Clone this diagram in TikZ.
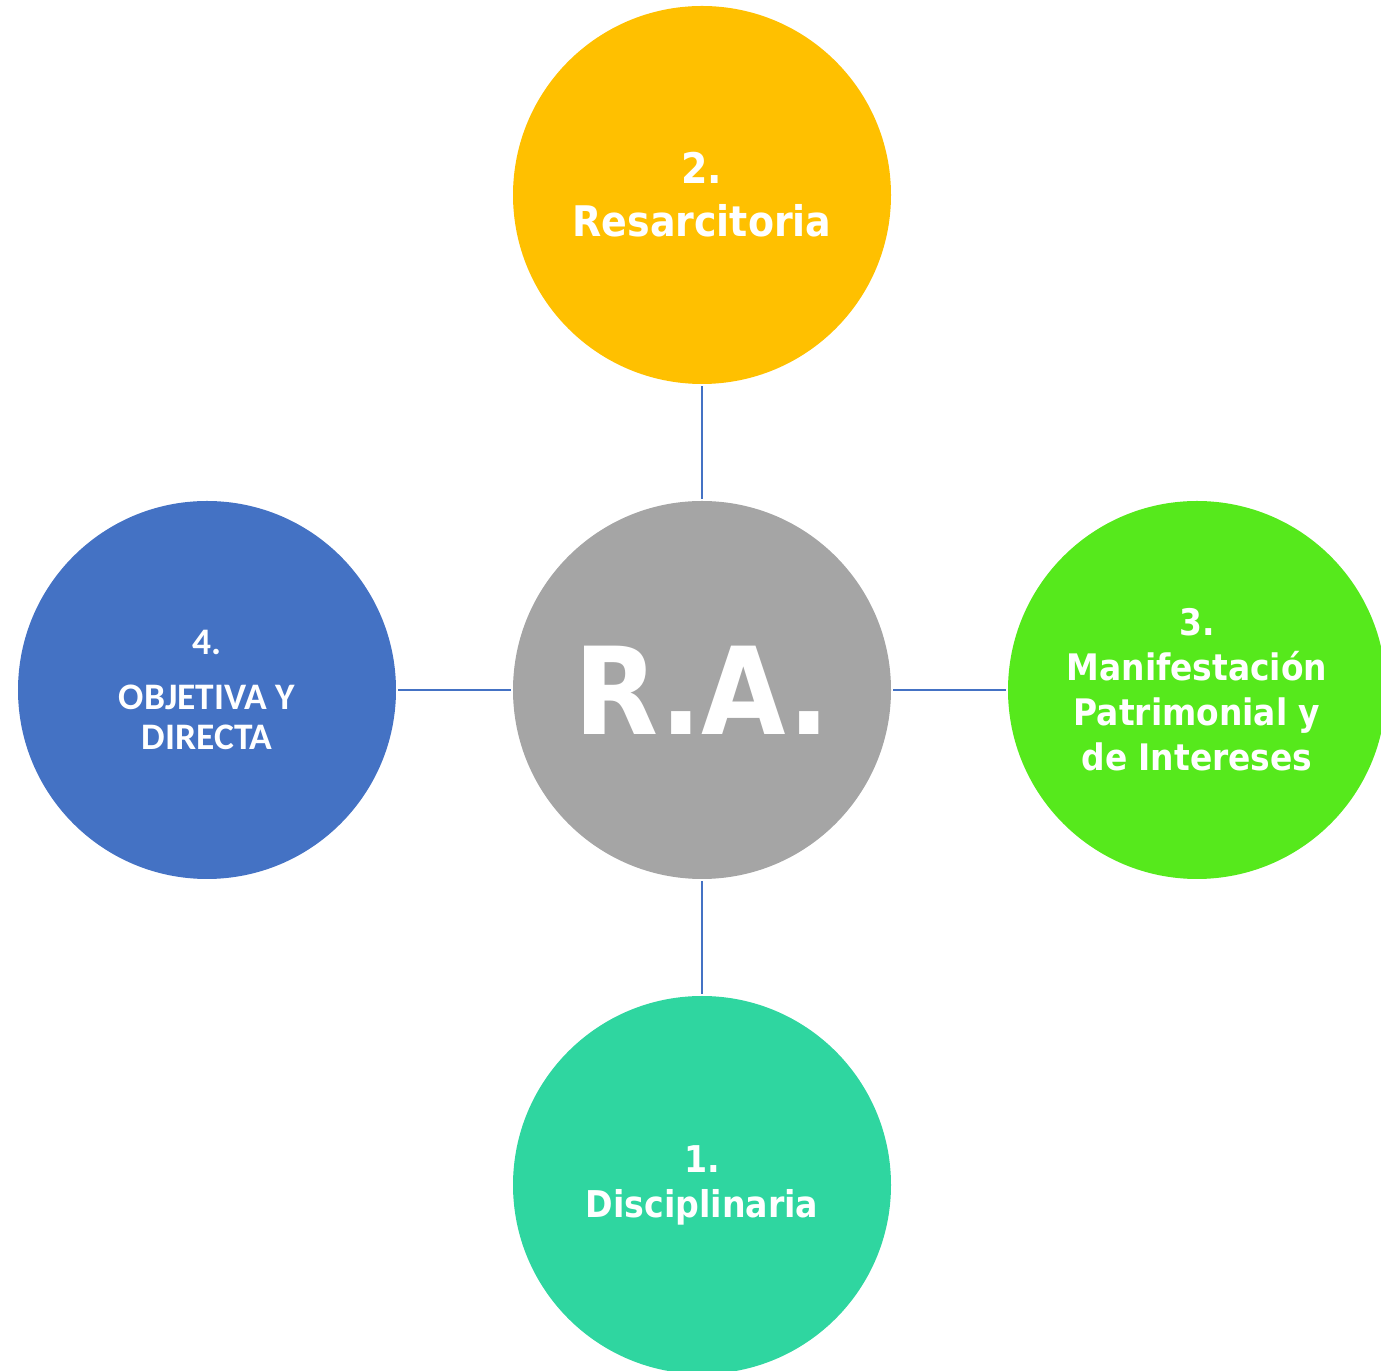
\documentclass[tikz,border=0pt]{standalone}
\usepackage{fontspec}
\setmainfont{DejaVu Sans Condensed}
\newfontfamily\carlito{Carlito}
\usetikzlibrary{positioning}

\definecolor{ragray}{HTML}{A5A5A5}
\definecolor{resgold}{HTML}{FFC000}
\definecolor{patgreen}{HTML}{56E91C}
\definecolor{discteal}{HTML}{2FD6A0}
\definecolor{objblue}{HTML}{4472C4}

\tikzstyle{circular} = [circle, minimum size=7.56cm, inner sep=0pt, node distance=9.9cm, text=white, align=center]
\tikzstyle{link} = [draw=objblue, line width=1.5pt, shorten <= 1.2pt, shorten >= 1.2pt]

\begin{document}
\begin{tikzpicture}
  \useasboundingbox (0,0) rectangle (27.62,27.42);
  \node[circular, fill=ragray, font=\bfseries\fontsize{69}{69}\selectfont](ra) at (14.04,13.62) {R.A.};
  \node[circular, fill=resgold, above of = ra, font=\bfseries\fontsize{24}{30}\selectfont](two) {2.\\ Resarcitoria};
  \node[circular, fill=patgreen, right of = ra, font=\bfseries\fontsize{20.8}{25.6}\selectfont](three) {3.\\ Manifestación\\ Patrimonial y\\ de Intereses};
  \node[circular, fill=discteal, below of = ra, font=\bfseries\fontsize{21}{25.5}\selectfont](one) {1.\\ Disciplinaria};
  \node[circular, fill=objblue, left of = ra, font=\carlito\bfseries\fontsize{21.3}{22.5}\selectfont](four) {4.\\[9pt] OBJETIVA Y\\ DIRECTA};

  \draw[link] (two) to (ra);
  \draw[link] (ra) to (three);
  \draw[link] (ra) to (one);
  \draw[link] (four) to (ra);

\end{tikzpicture}
\end{document}
